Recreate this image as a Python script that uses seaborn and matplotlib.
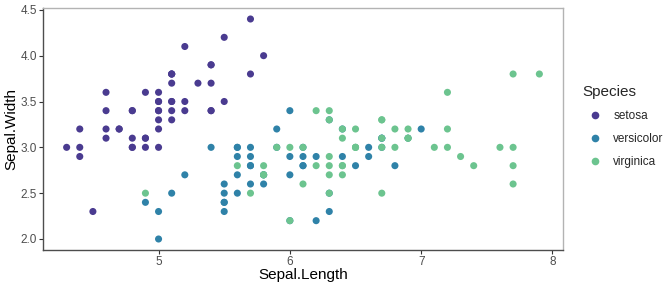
import matplotlib
matplotlib.use("Agg")
import matplotlib.pyplot as plt
import seaborn as sns
import pandas as pd
from matplotlib.lines import Line2D

setosa_sl = [5.1,4.9,4.7,4.6,5.0,5.4,4.6,5.0,4.4,4.9,5.4,4.8,4.8,4.3,5.8,5.7,5.4,5.1,5.7,5.1,5.4,5.1,4.6,5.1,4.8,5.0,5.0,5.2,5.2,4.7,4.8,5.4,5.2,5.5,4.9,5.0,5.5,4.9,4.4,5.1,5.0,4.5,4.4,5.0,5.1,4.8,5.1,4.6,5.3,5.0]
setosa_sw = [3.5,3.0,3.2,3.1,3.6,3.9,3.4,3.4,2.9,3.1,3.7,3.4,3.0,3.0,4.0,4.4,3.9,3.5,3.8,3.8,3.4,3.7,3.6,3.3,3.4,3.0,3.4,3.5,3.4,3.2,3.1,3.4,4.1,4.2,3.1,3.2,3.5,3.6,3.0,3.4,3.5,2.3,3.2,3.5,3.8,3.0,3.8,3.2,3.7,3.3]
versicolor_sl = [7.0,6.4,6.9,5.5,6.5,5.7,6.3,4.9,6.6,5.2,5.0,5.9,6.0,6.1,5.6,6.7,5.6,5.8,6.2,5.6,5.9,6.1,6.3,6.1,6.4,6.6,6.8,6.7,6.0,5.7,5.5,5.5,5.8,6.0,5.4,6.0,6.7,6.3,5.6,5.5,5.5,6.1,5.8,5.0,5.6,5.7,5.7,6.2,5.1,5.7]
versicolor_sw = [3.2,3.2,3.1,2.3,2.8,2.8,3.3,2.4,2.9,2.7,2.0,3.0,2.2,2.9,2.9,3.1,3.0,2.7,2.2,2.5,3.2,2.8,2.5,2.8,2.9,3.0,2.8,3.0,2.9,2.6,2.4,2.4,2.7,2.7,3.0,3.4,3.1,2.3,3.0,2.5,2.6,3.0,2.6,2.3,2.7,3.0,2.9,2.9,2.5,2.8]
virginica_sl = [6.3,5.8,7.1,6.3,6.5,7.6,4.9,7.3,6.7,7.2,6.5,6.4,6.8,5.7,5.8,6.4,6.5,7.7,7.7,6.0,6.9,5.6,7.7,6.3,6.7,7.2,6.2,6.1,6.4,7.2,7.4,7.9,6.4,6.3,6.1,7.7,6.3,6.4,6.0,6.9,6.7,6.9,5.8,6.8,6.7,6.7,6.3,6.5,6.2,5.9]
virginica_sw = [3.3,2.7,3.0,2.9,3.0,3.0,2.5,2.9,2.5,3.6,3.2,2.7,3.0,2.5,2.8,3.2,3.0,3.8,2.6,2.2,3.2,2.8,2.8,2.7,3.3,3.2,2.8,3.0,2.8,3.0,2.8,3.8,2.8,2.8,2.6,3.0,3.4,3.1,3.0,3.1,3.1,3.1,2.7,3.2,3.3,3.0,2.5,3.0,3.4,3.0]

species = ["setosa", "versicolor", "virginica"]
colors = ["#4A3B90", "#2F82A8", "#6CC48F"]
x_ticks = [5, 6, 7, 8]
y_ticks = [2.0, 2.5, 3.0, 3.5, 4.0, 4.5]

df = pd.DataFrame({
    "Sepal.Length": setosa_sl + versicolor_sl + virginica_sl,
    "Sepal.Width": setosa_sw + versicolor_sw + virginica_sw,
    "Species": ["setosa"] * len(setosa_sl) + ["versicolor"] * len(versicolor_sl) + ["virginica"] * len(virginica_sl),
})

sns.set_style("white")
plt.rcParams["font.family"] = ["Liberation Sans", "DejaVu Sans"]
plt.rcParams["xtick.bottom"] = True
plt.rcParams["ytick.left"] = True

fig = plt.figure(figsize=(6.72, 2.88), dpi=100)
ax = fig.add_axes([43 / 672, 38 / 288, (563 - 43) / 672, (280 - 38) / 288])

sns.scatterplot(data=df, x="Sepal.Length", y="Sepal.Width", hue="Species",
                hue_order=species, palette=colors, s=26, linewidth=0,
                ax=ax, legend=False, zorder=3)

ax.set_xlim(4.12, 8.08)
ax.set_ylim(1.88, 4.52)
ax.set_xticks(x_ticks)
ax.set_xticklabels([str(v) for v in x_ticks])
ax.set_yticks(y_ticks)
ax.set_yticklabels([f"{v:.1f}" for v in y_ticks])
ax.tick_params(axis="both", length=3, width=0.8, color="#333333",
               labelsize=8.5, labelcolor="#4D4D4D", pad=1.5, direction="out",
               bottom=True, left=True)
ax.set_xlabel("Sepal.Length", fontsize=11, color="black", labelpad=0)
ax.set_ylabel("Sepal.Width", fontsize=11, color="black", labelpad=1.5)

for side in ["left", "bottom"]:
    ax.spines[side].set_color("#4D4D4D")
    ax.spines[side].set_linewidth(1.0)
for side in ["top", "right"]:
    ax.spines[side].set_color("#B3B3B3")
    ax.spines[side].set_linewidth(1.0)

handles = [Line2D([0], [0], marker="o", linestyle="", markersize=5.5,
                  markerfacecolor=c, markeredgewidth=0) for c in colors]
leg = fig.legend(handles, species, title="Species", loc="upper left",
                 bbox_to_anchor=(578 / 672, 1 - 80 / 288), frameon=False,
                 fontsize=8.5, title_fontsize=11, labelspacing=0.95,
                 handletextpad=0.6, borderaxespad=0)
leg._legend_box.align = "left"

fig.savefig("out.png", dpi=100)
